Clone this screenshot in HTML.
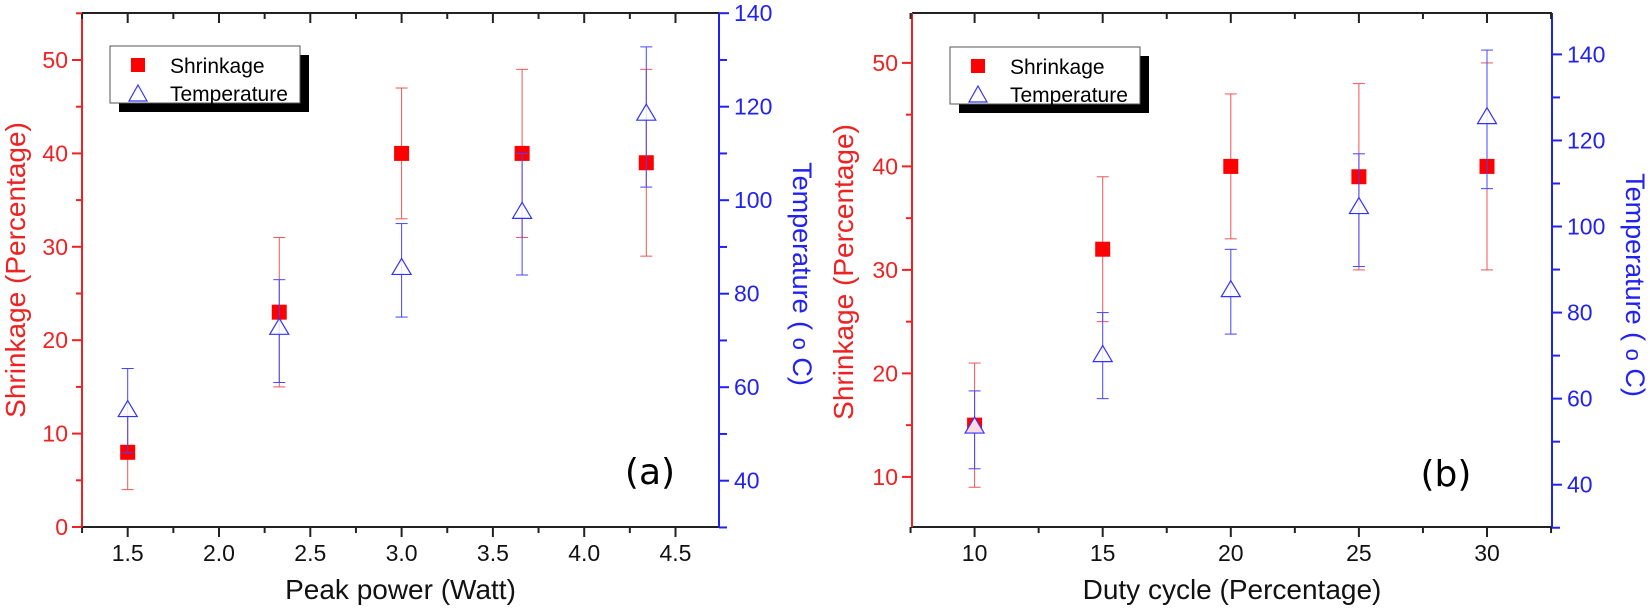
<!DOCTYPE html>
<html><head><meta charset="utf-8"><style>
html,body{margin:0;padding:0;background:#fff;}
svg{display:block;font-family:"Liberation Sans",Arial,sans-serif;}
</style></head><body>
<svg id="s" width="1650" height="609" viewBox="0 0 1650 609" xmlns="http://www.w3.org/2000/svg"></svg>
<script>
const S=document.getElementById('s');let h='';
function L(x1,y1,x2,y2,c,w){h+=`<line x1="${x1}" y1="${y1}" x2="${x2}" y2="${y2}" stroke="${c}" stroke-width="${w||1}"/>`;}
function T(x,y,t,c,sz,anc,extra){h+=`<text x="${x}" y="${y}" fill="${c}" font-size="${sz}" text-anchor="${anc||'middle'}" ${extra||''}>${t}</text>`;}
function panel(p){
 const {x0,x1,y0,y1}=p;
 const X=v=>p.xa+(v-p.xv)*p.xs, YL=v=>p.ya+(v-p.yv)*p.ys, YR=v=>p.ra+(v-p.rv)*p.rs;
 const lx=p.leg[0],ly=p.leg[1],lw=p.leg[2],lh=p.leg[3];
 h+=`<rect x="${lx+9}" y="${ly+9}" width="${lw}" height="${lh}" fill="#000"/>`;
 h+=`<rect x="${lx}" y="${ly}" width="${lw}" height="${lh}" fill="#fff" stroke="#555" stroke-width="1"/>`;
 h+=`<rect x="${lx+21}" y="${ly+12}" width="14" height="14" fill="#f00"/>`;
 T(lx+60,ly+27,'Shrinkage','#000',21,'start');
 h+=`<polygon points="${lx+28},${ly+39} ${lx+37},${ly+55} ${lx+19},${ly+55}" fill="none" stroke="#33f" stroke-width="1.2"/>`;
 T(lx+60,ly+55,'Temperature','#000',21,'start');
 p.data.forEach(d=>{
  const x=X(d[0]);
  L(x,YL(d[2]),x,YL(d[3]),'#e55',1);L(x-6,YL(d[2]),x+6,YL(d[2]),'#e55',1);L(x-6,YL(d[3]),x+6,YL(d[3]),'#e55',1);
  const ys=YL(d[1]);
  h+=`<rect x="${x-7.5}" y="${ys-7.5}" width="15" height="15" fill="#f00"/>`;
  L(x,YR(d[5]),x,YR(d[6]),'#44f',1);L(x-6,YR(d[5]),x+6,YR(d[5]),'#44f',1);L(x-6,YR(d[6]),x+6,YR(d[6]),'#44f',1);
  const yt=YR(d[4]);
  h+=`<polygon points="${x},${yt-10} ${x+9.5},${yt+6} ${x-9.5},${yt+6}" fill="#fff" fill-opacity="0.85" stroke="#33f" stroke-width="1.2"/>`;
 });
 L(x0,y0,x1,y0,'#222',2);L(x0-1,y1,x1+1,y1,'#222',2);
 L(x0,y0,x0,y1,'#e22',2);L(x1,y0,x1,y1,'#22e',2);
 p.xt.forEach(v=>{const x=X(v);L(x,y1,x,y1+10,'#222',2);L(x,y0,x,y0+10,'#222',2);T(x,561,p.xf(v),'#111',23);});
 p.xm.forEach(v=>{const x=X(v);L(x,y1,x,y1+6,'#222',2);L(x,y0,x,y0+6,'#222',2);});
 p.lt.forEach(v=>{const y=YL(v);L(x0-10,y,x0,y,'#e22',2);T(x0-14,y+8,v,'#e22',23,'end');});
 p.lm.forEach(v=>{const y=YL(v);L(x0-6,y,x0,y,'#e22',2);});
 p.rt.forEach(v=>{const y=YR(v);L(x1,y,x1+10,y,'#22e',2);T(x1+15,y+8,v,'#22e',23,'start');});
 p.rm.forEach(v=>{const y=YR(v);L(x1,y,x1+8,y,'#22e',2);});
 T((x0+x1)/2,599,p.xt_title,'#111',28);
 T(0,0,p.lt_title,'#e22',28,'middle',`transform="translate(${p.ltx},${p.lty}) rotate(-90)"`);
 T(0,0,'Temperature  ( <tspan font-size="22">o</tspan> C)','#22e',27,'middle',`transform="translate(${p.rtx},${p.rty}) rotate(90)"`);
 T(p.lab[0],p.lab[1],p.lab[2],'#000',36,'middle','font-family="DejaVu Sans, Liberation Sans, sans-serif"');
}
panel({x0:82,x1:719,y0:13,y1:527,xa:127.7,xv:1.5,xs:182.6,ya:527,yv:0,ys:-9.34,ra:480.7,rv:40,rs:-4.675,
 leg:[110,46,190,57],
 data:[[1.5,8,4,12,55,64,46],[2.33,23,15,31,72.6,83,61],[3.0,40,33,47,85.4,95,75],[3.66,40,31,49,97.4,110,84],[4.34,39,29,49,118.4,132.8,102.8]],
 xt:[1.5,2,2.5,3,3.5,4,4.5],xf:v=>v.toFixed(1),xm:[1.25,1.75,2.25,2.75,3.25,3.75,4.25,4.75].filter(v=>v<4.74),
 lt:[0,10,20,30,40,50],lm:[5,15,25,35,45,55],rt:[40,60,80,100,120,140],rm:[30,50,70,90,110,130],
 xt_title:'Peak power (Watt)',lt_title:'Shrinkage (Percentage)',ltx:25,lty:270,rtx:793,rty:274,lab:[650,484,'(a)']});
panel({x0:912,x1:1552,y0:13,y1:527,xa:974.6,xv:10,xs:25.62,ya:476.9,yv:10,ys:-10.35,ra:484.7,rv:40,rs:-4.303,
 leg:[950,47,190,57],
 data:[[10,15,9,21,53.4,61.8,43.7],[15,32,25,39,70,80,60],[20,40,33,47,85.1,94.7,75],[25,39,30,48,104.4,116.9,90.7],[30,40,30,50,125.3,141,108.8]],
 xt:[10,15,20,25,30],xf:v=>v,xm:[7.5,12.5,17.5,22.5,27.5,32.5],
 lt:[10,20,30,40,50],lm:[15,25,35,45],rt:[40,60,80,100,120,140],rm:[30,50,70,90,110,130],
 xt_title:'Duty cycle (Percentage)',lt_title:'Shrinkage (Percentage)',ltx:853,lty:272,rtx:1626,rty:285,lab:[1446,486,'(b)']});
S.innerHTML=h;
</script>
</body></html>
